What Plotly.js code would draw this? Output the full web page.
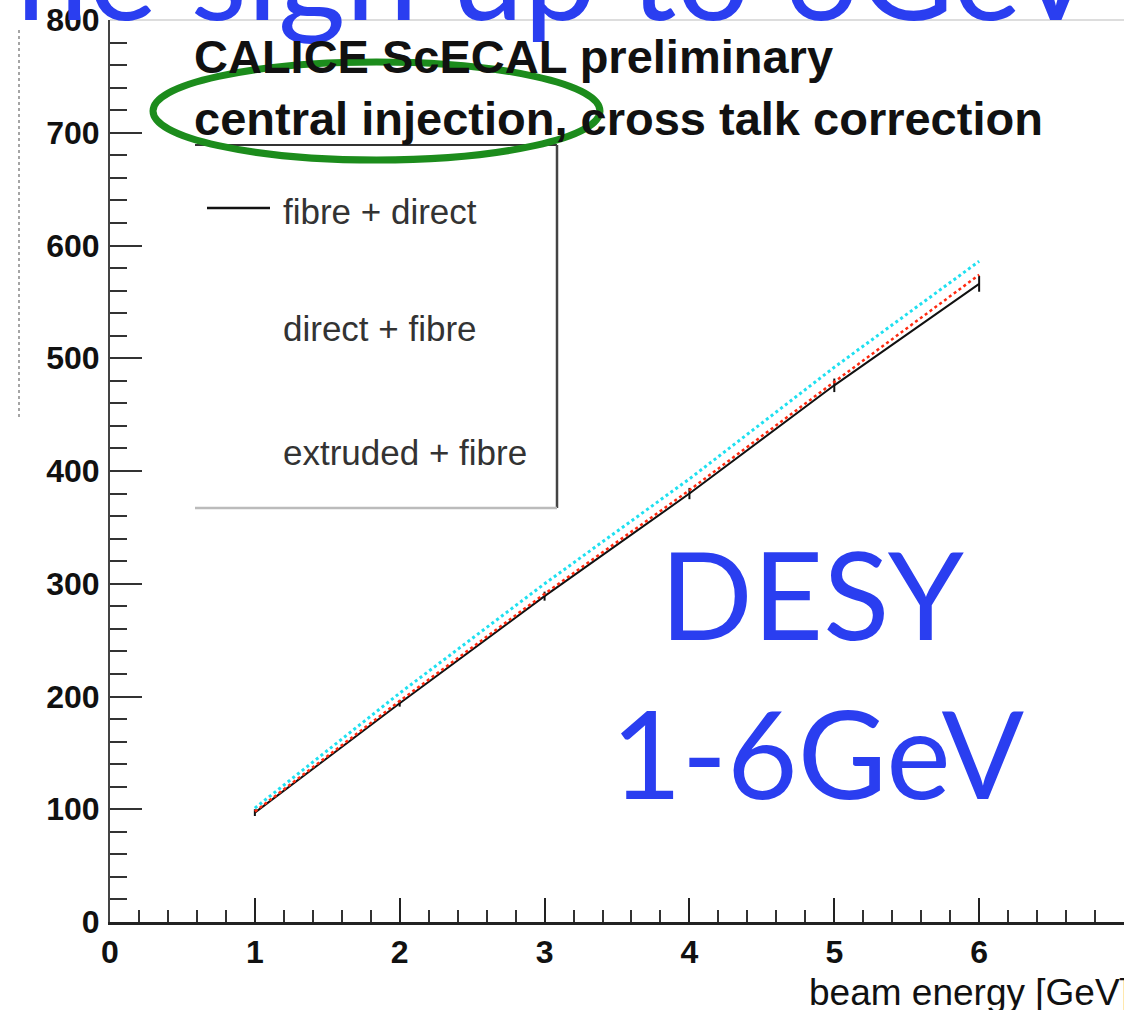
<!DOCTYPE html>
<html>
<head>
<meta charset="utf-8">
<script src="https://cdn.plot.ly/plotly-3.0.1.min.js"></script>
<style>
  html, body { margin: 0; padding: 0; background: #fff; }
  #chart { width: 1124px; height: 1010px; }
</style>
</head>
<body>
<div id="chart"></div>
<script>
// ---- data ----
const beamEnergy = [1, 2, 3, 4, 5, 6];
const seriesNames = ["fibre + direct", "direct + fibre", "extruded + fibre"];
const fibreDirect = [97, 194, 289, 380, 476, 566];
const fibreDirectErr = [3, 3, 4, 5, 6, 7];
const directFibre = [98, 196, 291, 383, 479, 574];
const extrudedFibre = [101, 203, 300, 393, 492, 586];
const xTickVals = [0, 1, 2, 3, 4, 5, 6, 7];
const yTickVals = [0, 100, 200, 300, 400, 500, 600, 700, 800];
const xAxisTitle = "beam energy [GeV]";
const headerLines = ["CALICE ScECAL preliminary", "central injection, cross talk correction"];
const slideTop = "ne sign up to 6GeV";
const slideNote = ["DESY", "1-6GeV"];

// ---- helpers: pixel -> paper ----
const L = 110, T = 20, W = 1014, H = 902;
const px = x => (x - L) / W;
const py = y => 1 - (y - T) / H;

const traces = [
  {
    x: beamEnergy, y: fibreDirect, name: seriesNames[0], mode: 'lines',
    line: { color: '#111111', width: 2 },
    error_y: { type: 'data', array: fibreDirectErr, color: '#111111', thickness: 2, width: 0 },
    showlegend: false
  },
  {
    x: beamEnergy, y: directFibre, name: seriesNames[1], mode: 'lines',
    line: { color: '#ff2a10', width: 2.5, dash: 'dot' },
    showlegend: false
  },
  {
    x: beamEnergy, y: extrudedFibre, name: seriesNames[2], mode: 'lines',
    line: { color: '#1fe0f0', width: 3, dash: 'dot' },
    showlegend: false
  }
];

const blue = 'rgb(42,62,240)';
const annotations = [
  { text: slideTop, xref: 'paper', yref: 'paper', x: px(14), y: py(50), xanchor: 'left', yanchor: 'bottom',
    showarrow: false, font: { family: 'Lato', size: 130, color: blue } },
  { text: '<b>' + headerLines[0] + '</b>', xref: 'paper', yref: 'paper', x: px(192), y: py(56), xanchor: 'left', yanchor: 'middle',
    showarrow: false, font: { family: 'Liberation Sans', size: 47, color: '#111' } },
  { text: '<b>' + headerLines[1] + '</b>', xref: 'paper', yref: 'paper', x: px(192), y: py(118), xanchor: 'left', yanchor: 'middle',
    showarrow: false, font: { family: 'Liberation Sans', size: 47, color: '#111' } },
  { text: seriesNames[0], xref: 'paper', yref: 'paper', x: px(281), y: py(211), xanchor: 'left', yanchor: 'middle',
    showarrow: false, font: { family: 'Liberation Sans', size: 35, color: '#333' } },
  { text: seriesNames[1], xref: 'paper', yref: 'paper', x: px(281), y: py(329), xanchor: 'left', yanchor: 'middle',
    showarrow: false, font: { family: 'Liberation Sans', size: 35, color: '#333' } },
  { text: seriesNames[2], xref: 'paper', yref: 'paper', x: px(281), y: py(452), xanchor: 'left', yanchor: 'middle',
    showarrow: false, font: { family: 'Liberation Sans', size: 35, color: '#333' } },
  { text: slideNote[0], xref: 'paper', yref: 'paper', x: px(812), y: py(593), xanchor: 'center', yanchor: 'middle',
    showarrow: false, font: { family: 'Lato', size: 122, color: blue } },
  { text: slideNote[1], xref: 'paper', yref: 'paper', x: px(817), y: py(752), xanchor: 'center', yanchor: 'middle',
    showarrow: false, font: { family: 'Lato', size: 122, color: blue } },
  { text: xAxisTitle, xref: 'paper', yref: 'paper', x: px(1132), y: py(993), xanchor: 'right', yanchor: 'middle',
    showarrow: false, font: { family: 'Liberation Sans', size: 37, color: '#111' } }
];

const shapes = [
  // plot frame top (faint)
  { type: 'line', xref: 'paper', yref: 'paper', x0: 0, x1: 1, y0: 1, y1: 1, line: { color: '#dddddd', width: 2 } },
  // legend box
  { type: 'line', xref: 'paper', yref: 'paper', x0: px(195), x1: px(557), y0: py(145), y1: py(145), line: { color: '#333', width: 2 } },
  { type: 'line', xref: 'paper', yref: 'paper', x0: px(557), x1: px(557), y0: py(145), y1: py(508), line: { color: '#444', width: 2.5 } },
  { type: 'line', xref: 'paper', yref: 'paper', x0: px(195), x1: px(557), y0: py(508), y1: py(508), line: { color: '#bbbbbb', width: 2.5 } },
  // legend sample line
  { type: 'line', xref: 'paper', yref: 'paper', x0: px(207), x1: px(270), y0: py(208), y1: py(208), line: { color: '#111', width: 2.5 } },
  // green ellipse
  { type: 'circle', xref: 'paper', yref: 'paper', x0: px(153), x1: px(600), y0: py(62), y1: py(160), line: { color: '#1c8c1c', width: 7 } },
  // leftover dotted line at far left
  { type: 'line', xref: 'paper', yref: 'paper', x0: px(19), x1: px(19), y0: py(30), y1: py(420), line: { color: '#888', width: 1.5, dash: 'dot' } }
];

const tickFont = { family: 'Liberation Sans', size: 32, color: '#111', weight: 'bold' };

const layout = {
  width: 1124, height: 1010,
  margin: { l: L, r: 0, t: T, b: 88 },
  paper_bgcolor: '#ffffff', plot_bgcolor: '#ffffff',
  showlegend: false,
  xaxis: {
    range: [0, 7], tickvals: xTickVals, showgrid: false, zeroline: false,
    showline: true, linecolor: '#222', linewidth: 2.5,
    ticks: 'inside', ticklen: 24, tickwidth: 2, tickcolor: '#222',
    minor: { dtick: 0.2, tick0: 0, ticks: 'inside', ticklen: 12, tickwidth: 2, tickcolor: '#333', showgrid: false },
    tickfont: tickFont
  },
  yaxis: {
    range: [0, 800], tickvals: yTickVals, showgrid: false, zeroline: false,
    showline: true, linecolor: '#444', linewidth: 2,
    ticks: 'inside', ticklen: 32, tickwidth: 2, tickcolor: '#333',
    minor: { dtick: 20, tick0: 0, ticks: 'inside', ticklen: 17, tickwidth: 2, tickcolor: '#333', showgrid: false },
    tickfont: tickFont, ticklabelstandoff: 2
  },
  annotations: annotations,
  shapes: shapes
};

Plotly.newPlot('chart', traces, layout, { displayModeBar: false, staticPlot: true });
</script>
</body>
</html>
